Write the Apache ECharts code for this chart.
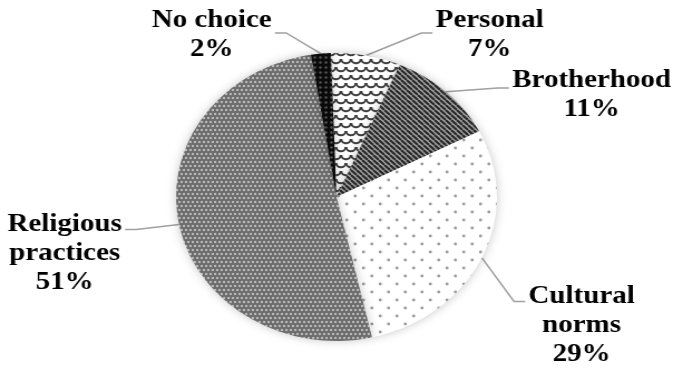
<!DOCTYPE html>
<html>
<head>
<meta charset="utf-8">
<script src="https://cdn.jsdelivr.net/npm/echarts@6/dist/echarts.min.js"></script>
<style>
  html, body { margin: 0; padding: 0; background: #fff; overflow: hidden; }
  #wrap { position: relative; width: 673px; height: 376px; overflow: hidden; }
  /* the pie is drawn as an ellipse: the chart canvas is stretched horizontally */
  #chart { position: absolute; left: 0; top: 0; width: 604px; height: 376px;
           transform: scaleX(1.1142); transform-origin: 0 0; }
</style>
</head>
<body>
<div id="wrap"><div id="chart"></div></div>
<script>
// Slices, clockwise from the top
const categories = ['Personal', 'Brotherhood', 'Cultural norms', 'Religious practices', 'No choice'];
const shares = [7, 11, 29, 51, 2];

// Small repeating fill tiles, one per slice
function tile(w, h, draw) {
  const c = document.createElement('canvas');
  c.width = w; c.height = h;
  draw(c.getContext('2d'), w, h);
  return c;
}
function dot(g, x, y, r) { g.beginPath(); g.arc(x, y, r, 0, Math.PI * 2); g.fill(); }

const fills = {
  'Personal': tile(9, 16, (g, w, h) => {
    g.fillStyle = '#ffffff'; g.fillRect(0, 0, w, h);
    g.strokeStyle = '#3f3f3f'; g.lineWidth = 2;
    [[0, 3], [9, 3], [4.5, 11], [0, 19], [9, 19], [4.5, -5]].forEach(([x, y]) => {
      g.beginPath(); g.arc(x, y, 4.2, 0.0 * Math.PI, 1.0 * Math.PI); g.stroke();
    });
  }),
  'Brotherhood': tile(5, 5, (g, w, h) => {
    g.fillStyle = '#a0a0a0'; g.fillRect(0, 0, w, h);
    g.strokeStyle = '#262626'; g.lineWidth = 2;
    [-5, 0, 5].forEach(k => { g.beginPath(); g.moveTo(k, 0); g.lineTo(k + 5, 5); g.stroke(); });
  }),
  'Cultural norms': tile(15, 16, (g, w, h) => {
    g.fillStyle = '#ffffff'; g.fillRect(0, 0, w, h);
    g.fillStyle = '#999999';
    dot(g, 3.75, 4, 1.4); dot(g, 11.25, 12, 1.4);
  }),
  'Religious practices': tile(4, 8, (g, w, h) => {
    g.fillStyle = '#6c6c6c'; g.fillRect(0, 0, w, h);
    g.fillStyle = '#bcbcbc';
    dot(g, 1, 2, 1.2); dot(g, 3, 6, 1.2);
  }),
  'No choice': tile(5, 5, (g, w, h) => {
    g.fillStyle = '#0a0a0a'; g.fillRect(0, 0, w, h);
    g.fillStyle = '#555555';
    dot(g, 2.5, 2.5, 1.2);
  })
};

// Where each label sits (in the chart's own, unstretched space),
// which side its leader line enters, and how far below the label top it joins
const labelSpots = {
  'Personal':            { x: 439.5, y: 35,  side: 'left',  hook: 27 },
  'Brotherhood':         { x: 531,   y: 95,  side: 'left',  hook: 22 },
  'Cultural norms':      { x: 522,   y: 325, side: 'left',  hook: 20 },
  'Religious practices': { x: 58,    y: 253, side: 'right', hook: 20 },
  'No choice':           { x: 190,   y: 35,  side: 'right', hook: 27 }
};

const chart = echarts.init(document.getElementById('chart'), null, { renderer: 'canvas' });

chart.setOption({
  animation: false,
  backgroundColor: '#ffffff',
  series: [{
    type: 'pie',
    center: ['50%', 197],
    radius: 144,
    startAngle: 92,
    clockwise: true,
    avoidLabelOverlap: false,
    data: categories.map((name, i) => ({
      name: name,
      value: shares[i],
      itemStyle: { color: { image: fills[name], repeat: 'repeat' } }
    })),
    itemStyle: {
      borderWidth: 0,
      shadowBlur: 9,
      shadowColor: 'rgba(0,0,0,0.22)'
    },
    label: {
      show: true,
      position: 'outside',
      formatter: p => (p.name.length > 12 ? p.name.replace(' ', '\n') : p.name) + '\n' + p.value + '%',
      fontFamily: '"Liberation Serif", "Times New Roman", serif',
      fontWeight: 'bold',
      fontSize: 26,
      lineHeight: 29,
      color: '#000000',
      align: 'center'
    },
    labelLine: {
      show: true,
      length: 15,
      length2: 10,
      lineStyle: { color: '#a0a0a0', width: 1.5 }
    },
    labelLayout: function (p) {
      const spot = labelSpots[categories[p.dataIndex]];
      const w = p.labelRect.width, h = p.labelRect.height;
      const top = spot.y - h / 2;
      const ay = top + spot.hook;
      const sideX = spot.side === 'left' ? spot.x - w / 2 - 3 : spot.x + w / 2 + 3;
      const elbowX = spot.side === 'left' ? sideX - 10 : sideX + 10;
      const out = { x: spot.x, y: spot.y, align: 'center', verticalAlign: 'middle' };
      if (p.labelLinePoints) {
        out.labelLinePoints = [p.labelLinePoints[0], [elbowX, ay], [sideX, ay]];
      }
      return out;
    }
  }]
});
</script>
</body>
</html>
